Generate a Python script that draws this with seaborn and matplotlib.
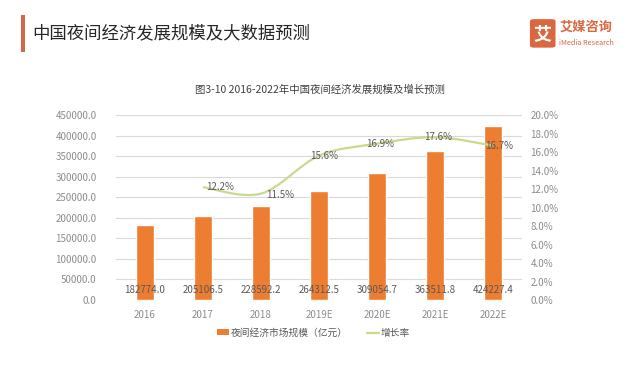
import matplotlib
matplotlib.use("Agg")
import matplotlib.pyplot as plt
from matplotlib.path import Path
from matplotlib.patches import PathPatch, FancyBboxPatch, Rectangle
from matplotlib.lines import Line2D
import seaborn as sns
import pandas as pd
import numpy as np

years = ["2016", "2017", "2018", "2019E", "2020E", "2021E", "2022E"]
scale = [182774.0, 205106.5, 228592.2, 264312.5, 309054.7, 363511.8, 424227.4]
growth_years = ["2017", "2018", "2019E", "2020E", "2021E", "2022E"]
growth = [12.2, 11.5, 15.6, 16.9, 17.6, 16.7]

sns.set_theme(style="white")
plt.rcParams['font.family'] = ['Noto Sans CJK SC', 'DejaVu Sans']

fig = plt.figure(figsize=(6.4, 3.75), dpi=100)
fig.patch.set_facecolor("white")
ax = fig.add_axes([0.1812, 0.2, 0.6344, 0.4933])

df = pd.DataFrame({"year": years, "scale": scale})
sns.barplot(data=df, x="year", y="scale", color="#ED7D31", width=0.32,
            saturation=1, ax=ax, zorder=3)
ax.set_xlim(-0.5, 6.5)
ax.set_ylim(0, 450000)
ax.set_yticks(np.arange(0, 450001, 50000))
ax.set_yticklabels([f"{v:.1f}" for v in np.arange(0, 450001, 50000)])
ax.grid(axis="y", color="#d9d9d9", linewidth=0.8, zorder=0)
ax.set_axisbelow(True)
for s in ax.spines.values():
    s.set_visible(False)
ax.set_xlabel("")
ax.set_ylabel("")
ax.tick_params(axis="both", length=0, labelsize=7, colors="#8c8c8c", pad=7)
ax.tick_params(axis="y", pad=14)

for i, v in enumerate(scale):
    ax.text(i, 25000, f"{v:.1f}", ha="center", va="center", fontsize=7,
            color="#595959", zorder=5)

ax2 = ax.twinx()
ax2.set_ylim(0, 20)
ax2.set_yticks(np.arange(0, 20.1, 2))
ax2.set_yticklabels([f"{v:.1f}%" for v in np.arange(0, 20.1, 2)])
ax2.tick_params(axis="y", length=0, labelsize=7, colors="#8c8c8c", pad=6)
for s in ax2.spines.values():
    s.set_visible(False)
ax2.grid(False)

# smooth curve (Catmull-Rom as Bezier segments)
xs = [years.index(y) for y in growth_years]
pts = np.array(list(zip(xs, growth)), dtype=float)
n = len(pts)
verts = [tuple(pts[0])]
codes = [Path.MOVETO]
for i in range(n - 1):
    p0 = pts[i - 1] if i > 0 else pts[i]
    p1 = pts[i]
    p2 = pts[i + 1]
    p3 = pts[i + 2] if i + 2 < n else pts[i + 1]
    c1 = p1 + (p2 - p0) / 6
    c2 = p2 - (p3 - p1) / 6
    verts += [tuple(c1), tuple(c2), tuple(p2)]
    codes += [Path.CURVE4] * 3
patch = PathPatch(Path(verts, codes), fill=False, edgecolor="#c9d98e",
                  linewidth=1.6, transform=ax2.transData, zorder=4)
ax2.add_patch(patch)

offsets = [(0.3, 0.0), (0.33, -0.1), (0.08, 0.0), (0.05, 0.0), (0.05, 0.0), (0.1, 0.0)]
for (x, g), (dx, dy) in zip(zip(xs, growth), offsets):
    ax2.text(x + dx, g + dy, f"{g:.1f}%", ha="center", va="center",
             fontsize=7, color="#595959", zorder=6)

# titles
fig.text(0.5, 0.762, "图3-10 2016-2022年中国夜间经济发展规模及增长预测",
         ha="center", va="center", fontsize=7.5, color="#404040")
fig.add_artist(Rectangle((0.033, 0.862), 0.0065, 0.098, transform=fig.transFigure,
                         facecolor="#d0694a", edgecolor="none"))
fig.text(0.05, 0.91, "中国夜间经济发展规模及大数据预测", ha="left", va="center",
         fontsize=12.5, color="#262626")

# logo
fig.add_artist(FancyBboxPatch((0.83, 0.875), 0.036, 0.072, boxstyle="round,pad=0.002,rounding_size=0.006",
                              transform=fig.transFigure, facecolor="#d9673f", edgecolor="none"))
fig.text(0.848, 0.911, "艾", ha="center", va="center", fontsize=13, color="white",
         fontweight="bold")
fig.text(0.874, 0.928, "艾媒咨询", ha="left", va="center", fontsize=9.5,
         color="#d9673f", fontweight="bold")
fig.text(0.874, 0.885, "iMedia Research", ha="left", va="center", fontsize=5.2,
         color="#d9673f")

# legend
handles = [Rectangle((0, 0), 1, 1, facecolor="#ED7D31", edgecolor="none"),
           Line2D([0], [0], color="#c9d98e", linewidth=1.6)]
fig.legend(handles, ["夜间经济市场规模（亿元）", "增长率"], loc="center",
           bbox_to_anchor=(0.49, 0.113), ncol=2, frameon=False, fontsize=7,
           labelcolor="#595959", handlelength=1.2, handleheight=0.5,
           columnspacing=2.0, handletextpad=0.2)

fig.savefig("out.png", dpi=100, facecolor="white")
